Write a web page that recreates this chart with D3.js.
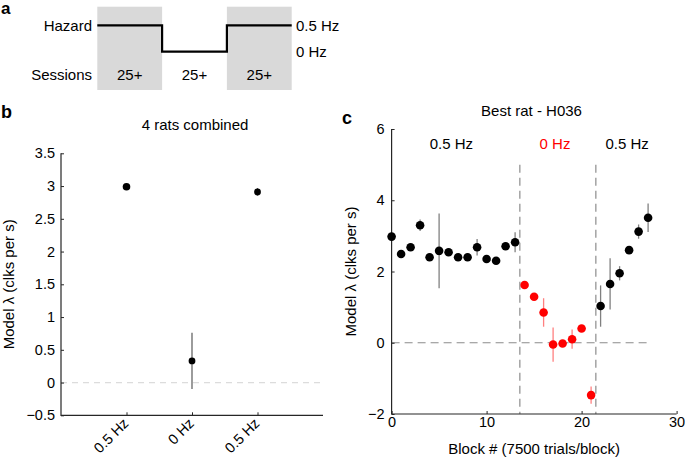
<!DOCTYPE html>
<html><head><meta charset="utf-8">
<script src="https://cdn.jsdelivr.net/npm/d3@7"></script>
<style>
body{margin:0;background:#fff;}
svg{font-family:"Liberation Sans",Arial,Helvetica,sans-serif;}
</style></head>
<body><svg id="c" width="685" height="459"></svg>
<script>
// ---------- data ----------
// panel a: schedule
const scheduleLabels = ["25+", "25+", "25+"];
const scheduleHazard = [0.5, 0, 0.5];
const hazardTickLabels = ["0.5 Hz", "0 Hz"];
// panel b: 4 rats combined
const combinedCategories = ["0.5 Hz", "0 Hz", "0.5 Hz"];
const combinedLambda = [2.99, 0.33, 2.91];
const combinedErr = [0.03, 0.43, 0.06];
const bTicks = [-0.5, 0, 0.5, 1, 1.5, 2, 2.5, 3, 3.5];
// panel c: best rat H036
const blocks = [0,1,2,3,4,5,6,7,8,9,10,11,12,13,14,15,16,17,18,19,20,21,22,23,24,25,26,27];
const lambdaH036 = [2.98,2.49,2.68,3.30,2.40,2.58,2.54,2.40,2.40,2.68,2.35,2.30,2.71,2.82,
                    1.62,1.29,0.85,-0.05,-0.02,0.10,0.40,-1.47,
                    1.03,1.65,1.95,2.60,3.12,3.51];
const errH036 = [0.05,0.04,0.04,0.16,0.04,1.05,0.04,0.04,0.04,0.23,0.04,0.04,0.05,0.28,
                 0.05,0.05,0.40,0.48,0.05,0.27,0.05,0.24,
                 0.58,0.72,0.20,0.05,0.20,0.40];
const hazardH036 = [0.5,0.5,0.5,0.5,0.5,0.5,0.5,0.5,0.5,0.5,0.5,0.5,0.5,0.5,
                    0,0,0,0,0,0,0,0,
                    0.5,0.5,0.5,0.5,0.5,0.5];
const switchBlocks = [13.5, 21.5];
const cXTicks = [0, 10, 20, 30];
const cYTicks = [-2, 0, 2, 4, 6];
const regimeLabels = [{t:"0.5 Hz", x:6.3, c:"#000"}, {t:"0 Hz", x:17.2, c:"#ff0000"}, {t:"0.5 Hz", x:24.8, c:"#000"}];

const svg = d3.select("#c");
const AX = "#262626";
const FS = 15, TFS = 14.5;
function minus(v){ return String(v).replace("-", "\u2212"); }

// ---------- panel a ----------
const ga = svg.append("g");
ga.append("text").attr("x", 1).attr("y", 14).attr("font-weight", "bold").attr("font-size", 17).text("a");
const ax = d3.scaleLinear().domain([0, 3]).range([97.3, 291.7]);
const ay = d3.scaleLinear().domain([0, 0.5]).range([51.7, 25.3]);
scheduleHazard.forEach((h, i) => {
  if (h > 0) ga.append("rect").attr("x", ax(i)).attr("y", 6.7).attr("width", ax(i + 1) - ax(i)).attr("height", 83.3).attr("fill", "#d9d9d9");
});
const stepPts = [];
scheduleHazard.forEach((h, i) => { stepPts.push([ax(i), ay(h)]); stepPts.push([ax(i + 1), ay(h)]); });
ga.append("path").attr("d", d3.line()(stepPts)).attr("fill", "none").attr("stroke", "#000").attr("stroke-width", 2.2);
ga.append("text").attr("x", 92).attr("y", 31).attr("text-anchor", "end").attr("font-size", FS).text("Hazard");
ga.append("text").attr("x", 92).attr("y", 80).attr("text-anchor", "end").attr("font-size", FS).text("Sessions");
ga.append("text").attr("x", 296).attr("y", 31).attr("font-size", FS).text(hazardTickLabels[0]);
ga.append("text").attr("x", 296).attr("y", 57).attr("font-size", FS).text(hazardTickLabels[1]);
scheduleLabels.forEach((s, i) => {
  ga.append("text").attr("x", (ax(i) + ax(i + 1)) / 2).attr("y", 80).attr("text-anchor", "middle").attr("font-size", FS).text(s);
});

// ---------- panel b ----------
const gb = svg.append("g");
gb.append("text").attr("x", 1).attr("y", 118).attr("font-weight", "bold").attr("font-size", 18).text("b");
const bx = d3.scaleLinear().domain([0, 4]).range([61, 323]);
const by = d3.scaleLinear().domain([-0.5, 3.5]).range([415.3, 153.3]);
gb.append("text").attr("x", 195).attr("y", 130).attr("text-anchor", "middle").attr("font-size", FS).text("4 rats combined");
gb.append("line").attr("x1", bx(0)).attr("x2", bx(4)).attr("y1", by(0)).attr("y2", by(0))
  .attr("stroke", "#dcdcdc").attr("stroke-width", 1.3).attr("stroke-dasharray", "6,5");
const byAxis = gb.append("g").attr("transform", `translate(${bx(0)},0)`)
  .call(d3.axisLeft(by).tickValues(bTicks).tickSize(-3).tickPadding(6).tickFormat(d => minus(d)));
const bxAxis = gb.append("g").attr("transform", `translate(0,${by(-0.5)})`)
  .call(d3.axisBottom(bx).tickValues([1, 2, 3]).tickSize(-3).tickFormat(""));
[byAxis, bxAxis].forEach(g => {
  g.select(".domain").remove();
  g.selectAll(".tick line").attr("stroke", AX);
  g.selectAll("text").attr("font-size", TFS).attr("fill", "#000").attr("font-family", "Liberation Sans, Arial, sans-serif");
});
gb.append("path").attr("d", `M${bx(0)},${by(3.5)}V${by(-0.5)}H${bx(4)}`).attr("fill", "none").attr("stroke", AX).attr("stroke-width", 1.2);
combinedCategories.forEach((c, i) => {
  gb.append("text").attr("transform", `translate(${bx(i + 1) + 3},${by(-0.5) + 9}) rotate(-45)`)
    .attr("text-anchor", "end").attr("font-size", TFS).text(c);
});
combinedLambda.forEach((v, i) => {
  gb.append("line").attr("x1", bx(i + 1)).attr("x2", bx(i + 1)).attr("y1", by(v - combinedErr[i])).attr("y2", by(v + combinedErr[i]))
    .attr("stroke", "#666").attr("stroke-width", 1.3);
  gb.append("circle").attr("cx", bx(i + 1)).attr("cy", by(v)).attr("r", i === 0 ? 3.8 : 3.4).attr("fill", "#000");
});
gb.append("text").attr("transform", `translate(14,${(by(3.5) + by(-0.5)) / 2}) rotate(-90)`)
  .attr("text-anchor", "middle").attr("font-size", FS).text("Model \u03bb (clks per s)");

// ---------- panel c ----------
const gc = svg.append("g");
gc.append("text").attr("x", 342).attr("y", 124).attr("font-weight", "bold").attr("font-size", 18).text("c");
const cx = d3.scaleLinear().domain([0, 30]).range([391.6, 676.6]);
const cy = d3.scaleLinear().domain([-2, 6]).range([414, 129]);
gc.append("text").attr("x", 531.5).attr("y", 116).attr("text-anchor", "middle").attr("font-size", FS).text("Best rat - H036");
gc.append("line").attr("x1", cx(0)).attr("x2", cx(27)).attr("y1", cy(0)).attr("y2", cy(0))
  .attr("stroke", "#8c8c8c").attr("stroke-width", 1.2).attr("stroke-dasharray", "8,5");
switchBlocks.forEach(s => {
  gc.append("line").attr("x1", cx(s)).attr("x2", cx(s)).attr("y1", cy(5)).attr("y2", cy(-2))
    .attr("stroke", "#8c8c8c").attr("stroke-width", 1.2).attr("stroke-dasharray", "8,5");
});
const cyAxis = gc.append("g").attr("transform", `translate(${cx(0)},0)`)
  .call(d3.axisLeft(cy).tickValues(cYTicks).tickSize(-3).tickPadding(7).tickFormat(d => minus(d)));
const cxAxis = gc.append("g").attr("transform", `translate(0,${cy(-2)})`)
  .call(d3.axisBottom(cx).tickValues(cXTicks).tickSize(-3).tickPadding(3));
[cyAxis, cxAxis].forEach(g => {
  g.select(".domain").remove();
  g.selectAll(".tick line").attr("stroke", AX);
  g.selectAll("text").attr("font-size", TFS).attr("fill", "#000").attr("font-family", "Liberation Sans, Arial, sans-serif");
});
gc.append("path").attr("d", `M${cx(0)},${cy(6)}V${cy(-2)}H${cx(30)}`).attr("fill", "none").attr("stroke", AX).attr("stroke-width", 1.2);
regimeLabels.forEach(r => {
  gc.append("text").attr("x", cx(r.x)).attr("y", 148.5).attr("text-anchor", "middle").attr("font-size", FS).attr("fill", r.c).text(r.t);
});
blocks.forEach((b, i) => {
  const red = hazardH036[i] === 0;
  const v = lambdaH036[i], e = errH036[i];
  gc.append("line").attr("x1", cx(b)).attr("x2", cx(b)).attr("y1", cy(v - e)).attr("y2", cy(v + e))
    .attr("stroke", red ? "#ff8080" : "#808080").attr("stroke-width", 1.3);
});
blocks.forEach((b, i) => {
  const red = hazardH036[i] === 0;
  gc.append("circle").attr("cx", cx(b)).attr("cy", cy(lambdaH036[i])).attr("r", 4.3).attr("fill", red ? "#ff0000" : "#000");
});
gc.append("text").attr("x", (cx(0) + cx(30)) / 2).attr("y", 454).attr("text-anchor", "middle").attr("font-size", FS).text("Block # (7500 trials/block)");
gc.append("text").attr("transform", `translate(356,${(cy(6) + cy(-2)) / 2}) rotate(-90)`)
  .attr("text-anchor", "middle").attr("font-size", FS).text("Model \u03bb (clks per s)");
</script></body></html>
